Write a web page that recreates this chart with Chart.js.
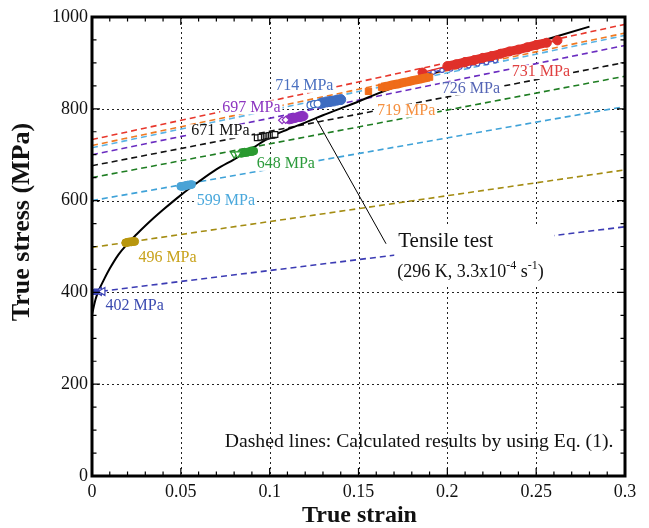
<!DOCTYPE html>
<html>
<head>
<meta charset="utf-8">
<script src="https://cdn.jsdelivr.net/npm/chart.js@4.4.0/dist/chart.umd.min.js"></script>
<style>
  body { margin: 0; background: #fff; }
  canvas { display: block; }
</style>
</head>
<body>
<canvas id="c" width="649" height="528"></canvas>
<script>
// dashed lines (Eq. 1), stress at strain 0 and at strain 0.3
const lineNames  = ['731', '719', '714', '697', '671', '648', '599', '496', '402'];
const lineStart  = [733, 720, 715, 700, 676, 650, 600, 498, 400];
const lineEnd    = [984, 965, 960, 938, 901, 871, 805, 667, 543];
const lineColors = ['#e8372c', '#f07a22', '#5cb4e4', '#6a2cc0', '#111111', '#1e7d22', '#3fa2d8', '#a48c12', '#3c3cb4'];

// tensile test curve
const curveStrain = [0, 0.002, 0.004, 0.007, 0.01, 0.015, 0.02, 0.025, 0.03, 0.035, 0.04, 0.05, 0.06, 0.07, 0.08, 0.09,
  0.10, 0.11, 0.12, 0.13, 0.14, 0.15, 0.16, 0.17, 0.18, 0.19, 0.20, 0.22, 0.24, 0.26, 0.28];
const curveStress = [352, 385, 406, 430, 452, 483, 506, 526, 545, 563, 580, 612, 641, 668, 690, 713,
  738, 755, 770, 786, 801, 816, 832, 847, 861, 875, 887, 910, 933, 956, 979];

// measured points
const p402x = [0.0005, 0.0015, 0.0025];
const p402y = [401, 401, 402];
const p402ox = [0.004, 0.006];
const p402oy = [402, 402];
const p496x = [0.019, 0.020, 0.021, 0.022, 0.023, 0.024];
const p496y = [508, 509, 510, 510, 511, 511];
const p599x = [0.050, 0.051, 0.052, 0.053, 0.054, 0.055, 0.056];
const p599y = [631, 631, 632, 633, 634, 634, 635];
const p648ox = [0.080, 0.082];
const p648oy = [701, 702];
const p648x = [0.084, 0.085, 0.086, 0.087, 0.088, 0.089, 0.090, 0.091];
const p648y = [703, 704, 705, 705, 706, 707, 707, 708];
const p671x = [0.093, 0.095, 0.097, 0.098, 0.099, 0.100, 0.101, 0.102, 0.103];
const p671y = [737, 738, 739, 740, 741, 742, 742, 743, 744];
const p697ox = [0.107, 0.109];
const p697oy = [775, 776];
const p697x = [0.111, 0.112, 0.113, 0.114, 0.115, 0.116, 0.117, 0.118, 0.119];
const p697y = [777, 778, 779, 780, 781, 782, 782, 783, 784];
const p714ox = [0.123, 0.125, 0.127];
const p714oy = [808, 810, 811];
const p714x = [0.129, 0.130, 0.132, 0.134, 0.136, 0.138, 0.140];
const p714y = [812, 813, 815, 816, 817, 819, 820];
const p719x = [0.1556, 0.163, 0.166, 0.169, 0.172, 0.175, 0.178, 0.181, 0.184, 0.187, 0.190];
const p719y = [838, 847, 849, 852, 854, 857, 859, 862, 864, 867, 869];
const p726x = [0.187, 0.192, 0.197, 0.202, 0.207, 0.212, 0.217, 0.222, 0.227];
const p726y = [877, 880, 884, 887, 891, 894, 898, 901, 905];
const p731x = [0.186, 0.200, 0.205, 0.210, 0.215, 0.220, 0.225, 0.230, 0.235, 0.240, 0.245, 0.250, 0.256, 0.262];
const p731y = [879, 893, 897, 902, 906, 911, 915, 920, 925, 929, 934, 939, 944, 949];

// text labels
const labelText   = ['714 MPa', '697 MPa', '671 MPa', '648 MPa', '599 MPa', '496 MPa', '402 MPa', '719 MPa', '726 MPa', '731 MPa'];
const labelStrain = [0.1195, 0.0897, 0.0723, 0.1091, 0.0754, 0.0425, 0.0240, 0.1768, 0.2133, 0.2527];
const labelStress = [850, 803, 751, 680, 599, 475, 370, 796, 844, 880];
const labelColors = ['#4a70c0', '#8c35c0', '#111111', '#2a9a3a', '#4aa8dc', '#c8a21a', '#3a4ab0', '#f59040', '#5565b5', '#e04040'];

const xTicks = [0, 0.05, 0.1, 0.15, 0.2, 0.25, 0.3];
const yTicks = [0, 200, 400, 600, 800, 1000];

const serif = "'Liberation Serif', 'Times New Roman', serif";

function pts(xs, ys) {
  return xs.map((v, i) => ({x: v, y: ys[i]}));
}

const datasets = [];
for (let i = 0; i < lineNames.length; i++) {
  datasets.push({
    label: lineNames[i] + ' MPa calc',
    data: [{x: 0, y: lineStart[i]}, {x: 0.3, y: lineEnd[i]}],
    showLine: true, borderColor: lineColors[i], borderWidth: 1.6,
    borderDash: [6, 4], pointRadius: 0, order: 5
  });
}
datasets.push({
  label: 'Tensile test', data: pts(curveStrain, curveStress), showLine: true,
  borderColor: '#000', borderWidth: 2, pointRadius: 0, cubicInterpolationMode: 'monotone', order: 4
});
datasets.push({
  label: 'leader', data: [{x: 0.126, y: 779}, {x: 0.1655, y: 506}], showLine: true,
  borderColor: '#000', borderWidth: 1, pointRadius: 0, order: 4
});

function marks(xs, ys, color, style, r, open, extra) {
  return Object.assign({
    data: pts(xs, ys), showLine: false, pointStyle: style, pointRadius: r,
    backgroundColor: open ? '#fff' : color, borderColor: color,
    pointBackgroundColor: open ? '#fff' : color, pointBorderColor: color,
    pointBorderWidth: open ? 1.2 : 1, order: 1
  }, extra || {});
}
datasets.push(marks(p402x, p402y, '#3a42b4', 'rect', 3.5, false));
datasets.push(marks(p402ox, p402oy, '#3a42b4', 'triangle', 4.5, true, {rotation: -90}));
datasets.push(marks(p496x, p496y, '#b8960e', 'circle', 4, false));
datasets.push(marks(p599x, p599y, '#4aa3d6', 'circle', 4, false));
datasets.push(marks(p648ox, p648oy, '#2a9a30', 'triangle', 4, true, {rotation: 180}));
datasets.push(marks(p648x, p648y, '#2a9a30', 'circle', 4, false));
datasets.push(marks(p671x, p671y, '#111', 'rect', 4, true));
datasets.push(marks(p697ox, p697oy, '#8a30c0', 'rectRot', 3.5, true));
datasets.push(marks(p697x, p697y, '#8a30c0', 'circle', 4.5, false));
datasets.push(marks(p714ox, p714oy, '#3d6cc0', 'circle', 3.5, true));
datasets.push(marks(p714x, p714y, '#3d6cc0', 'circle', 5, false));
datasets.push(marks(p719x.slice(1), p719y.slice(1), '#ef6c1a', 'rect', 4.5, false,
  {showLine: true, borderWidth: 9, borderCapStyle: 'butt'}));
datasets.push(marks(p719x.slice(0, 1), p719y.slice(0, 1), '#ef6c1a', 'rect', 4.5, false));
datasets.push(marks(p726x, p726y, '#4c56c0', 'circle', 2.2, true,
  {showLine: true, borderWidth: 1.5, order: 2}));
datasets.push(marks(p731x, p731y, '#e0302a', 'circle', 0, false,
  {showLine: true, borderWidth: 1.5}));
datasets.push(marks(p731x.slice(1, -1), p731y.slice(1, -1), '#e0302a', 'circle', 4.5, false,
  {showLine: true, borderWidth: 9}));
datasets.push(marks([p731x[0], p731x[p731x.length - 1]], [p731y[0], p731y[p731y.length - 1]], '#e0302a', 'circle', 4.5, false));

function boxedText(ctx, text, cx, cy, font, color, half) {
  ctx.font = font;
  const w = ctx.measureText(text).width;
  ctx.fillStyle = '#fff';
  ctx.fillRect(cx - w / 2 - 2, cy - half, w + 4, half * 2);
  ctx.fillStyle = color;
  ctx.textAlign = 'center';
  ctx.textBaseline = 'middle';
  ctx.fillText(text, cx, cy);
}

const framePlugin = {
  id: 'frame',
  beforeDatasetsDraw(chart) {
    const {ctx, chartArea: a, scales: {x, y}} = chart;
    ctx.save();
    ctx.strokeStyle = '#222';
    ctx.lineWidth = 1;
    ctx.setLineDash([2, 3]);
    ctx.beginPath();
    xTicks.slice(1, -1).forEach(v => {
      const px = Math.round(x.getPixelForValue(v)) + 0.5;
      ctx.moveTo(px, a.top); ctx.lineTo(px, a.bottom);
    });
    yTicks.slice(1, -1).forEach(v => {
      const py = Math.round(y.getPixelForValue(v)) + 0.5;
      ctx.moveTo(a.left, py); ctx.lineTo(a.right, py);
    });
    ctx.stroke();
    ctx.restore();
  },
  afterDatasetsDraw(chart) {
    const {ctx, chartArea: a, scales: {x, y}} = chart;
    ctx.save();
    // value labels
    labelText.forEach((t, i) => {
      boxedText(ctx, t, x.getPixelForValue(labelStrain[i]), y.getPixelForValue(labelStress[i]),
        '16px ' + serif, labelColors[i], 7);
    });
    // tensile test block
    const left = x.getPixelForValue(0.1718);
    const ty = y.getPixelForValue(512), py0 = y.getPixelForValue(443);
    ctx.fillStyle = '#fff';
    ctx.fillRect(left - 3, ty - 14, 160, 58);
    ctx.fillStyle = '#111';
    ctx.font = '21px ' + serif;
    ctx.textAlign = 'left';
    ctx.textBaseline = 'middle';
    ctx.fillText('Tensile test', left + 1, ty);
    const parts = [['(296 K, 3.3x10', 0], ['-4', 1], [' s', 0], ['-1', 1], [')', 0]];
    let cx = left;
    parts.forEach(([s, sup]) => {
      ctx.font = (sup ? '12px ' : '18px ') + serif;
      ctx.fillText(s, cx, sup ? py0 - 7 : py0);
      cx += ctx.measureText(s).width;
    });
    // note
    ctx.font = '19.7px ' + serif;
    ctx.textAlign = 'right';
    ctx.fillText('Dashed lines: Calculated results by using Eq. (1).', x.getPixelForValue(0.2935), y.getPixelForValue(75));

    // frame
    ctx.strokeStyle = '#000';
    ctx.lineWidth = 3;
    ctx.strokeRect(a.left, a.top, a.right - a.left, a.bottom - a.top);
    // inward ticks on all sides
    ctx.lineWidth = 1.2;
    ctx.beginPath();
    for (let k = 1; k < 30; k++) {
      const px = x.getPixelForValue(k / 100);
      const len = k % 5 === 0 ? 8 : 4.5;
      ctx.moveTo(px, a.bottom); ctx.lineTo(px, a.bottom - len);
      ctx.moveTo(px, a.top); ctx.lineTo(px, a.top + len);
    }
    for (let k = 1; k < 20; k++) {
      const py = y.getPixelForValue(k * 50);
      const len = k % 4 === 0 ? 8 : 4.5;
      ctx.moveTo(a.left, py); ctx.lineTo(a.left + len, py);
      ctx.moveTo(a.right, py); ctx.lineTo(a.right - len, py);
    }
    ctx.stroke();
    ctx.restore();
  },
  afterDraw(chart) {
    const {ctx, chartArea: a} = chart;
    ctx.save();
    ctx.fillStyle = '#111';
    ctx.textAlign = 'center';
    ctx.textBaseline = 'middle';
    ctx.font = 'bold 24px ' + serif;
    ctx.fillText('True strain', (a.left + a.right) / 2 + 1, 516);
    ctx.translate(22, 222);
    ctx.rotate(-Math.PI / 2);
    ctx.font = 'bold 26px ' + serif;
    ctx.fillText('True stress (MPa)', 0, 0);
    ctx.restore();
  }
};

new Chart(document.getElementById('c'), {
  type: 'scatter',
  data: {datasets: datasets},
  options: {
    responsive: false,
    animation: false,
    layout: {padding: {top: 17, right: 24, left: 0, bottom: 0}},
    plugins: {legend: {display: false}, tooltip: {enabled: false}},
    scales: {
      x: {
        type: 'linear', min: 0, max: 0.3,
        afterBuildTicks: s => { s.ticks = xTicks.map(v => ({value: v})); },
        ticks: {font: {family: serif, size: 18}, color: '#111', padding: 5, maxRotation: 0,
          callback: v => String(+v.toFixed(2))},
        grid: {display: false, drawTicks: false},
        border: {display: false},
        afterFit: s => { s.height = 52; }
      },
      y: {
        type: 'linear', min: 0, max: 1000,
        afterBuildTicks: s => { s.ticks = yTicks.map(v => ({value: v})); },
        ticks: {font: {family: serif, size: 18}, color: '#111', padding: 4,
          callback: v => String(v)},
        grid: {display: false, drawTicks: false},
        border: {display: false},
        afterFit: s => { s.width = 92; }
      }
    }
  },
  plugins: [framePlugin]
});
</script>
</body>
</html>
